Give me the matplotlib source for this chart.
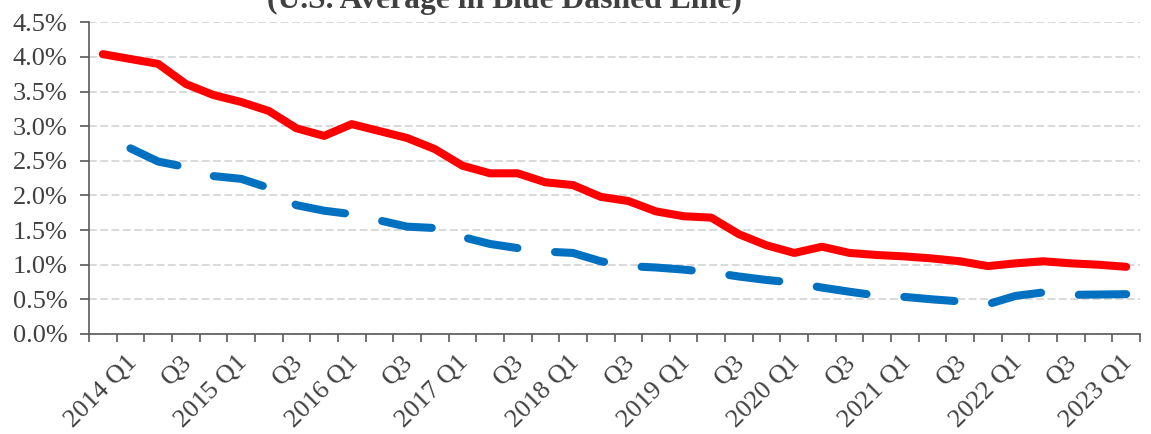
import numpy as np
import matplotlib
matplotlib.use("Agg")
import matplotlib.pyplot as plt
import matplotlib.transforms as mtransforms
from matplotlib.ticker import FuncFormatter, MultipleLocator

# quarters 2013 Q4 .. 2023 Q1
quarters = ["2013 Q4"] + [f"{y} Q{q}" for y in range(2014, 2023) for q in range(1, 5)] + ["2023 Q1"]

# state rate (red) and U.S. average (blue dashed), percent
state_rate = [4.04, 3.97, 3.90, 3.61, 3.45, 3.35, 3.22, 2.97, 2.86, 3.03,
              2.93, 2.83, 2.67, 2.43, 2.32, 2.32, 2.19, 2.15, 1.98, 1.92,
              1.77, 1.70, 1.68, 1.44, 1.28, 1.17, 1.26, 1.17, 1.14, 1.12,
              1.09, 1.05, 0.98, 1.02, 1.05, 1.02, 1.00, 0.97]
us_average = [np.nan, 2.68, 2.49, 2.41, 2.28, 2.24, 2.11, 1.86, 1.78, 1.73,
              1.64, 1.55, 1.53, 1.40, 1.30, 1.24, 1.19, 1.17, 1.05, 0.98,
              0.96, 0.93, 0.89, 0.83, 0.78, 0.74, 0.67, 0.61, 0.555, 0.535,
              0.50, 0.47, 0.43, 0.55, 0.60, 0.565, 0.57, 0.575]

title = "(U.S. Average in Blue Dashed Line)"

plt.rcParams['font.family'] = ['Liberation Serif', 'DejaVu Serif']
text_col = '#404040'
axis_col = '#595959'

fig = plt.figure(figsize=(11.51, 4.34), dpi=100)
ax = fig.add_axes([89 / 1151, 1 - 334 / 434, (1140 - 89) / 1151, (334 - 22.3) / 434])

x = np.arange(len(quarters))
ax.plot(x, state_rate, color='#FF0000', lw=5.8, solid_joinstyle='round',
        solid_capstyle='round', zorder=3)
blue, = ax.plot(x, us_average, color='#0070C0', lw=5.8, dash_capstyle='round',
                dash_joinstyle='round', zorder=3)
blue.set_dashes([6.25, 4.7])

ax.set_xlim(-0.5, len(quarters) - 0.5)
ax.set_ylim(0, 4.5)
ax.yaxis.set_major_locator(MultipleLocator(0.5))
ax.yaxis.set_major_formatter(FuncFormatter(lambda v, p: f"{v:.1f}%"))
ax.grid(axis='y', color='#D9D9D9', lw=1.4, dashes=(4, 1.8), zorder=1)
ax.set_axisbelow(True)

# category boundary ticks
ax.set_xticks(np.arange(-0.5, len(quarters), 1.0), minor=True)
lab_pos = [i for i, q in enumerate(quarters) if q.endswith("Q1") or q.endswith("Q3")]
lab_txt = [quarters[i] if quarters[i].endswith("Q1") else "Q3" for i in lab_pos]
ax.set_xticks(lab_pos)
ax.set_xticklabels(lab_txt, rotation=45, ha='right', va='center', rotation_mode='anchor')
ax.tick_params(axis='x', which='major', length=0, pad=18, labelsize=19, colors=text_col)
ax.tick_params(axis='x', which='minor', length=6, width=1.2, color=axis_col)
ax.tick_params(axis='y', length=6.5, width=1.2, color=axis_col, pad=9,
               labelsize=19, labelcolor=text_col)
offset = mtransforms.ScaledTranslation(3 / 100, 0, fig.dpi_scale_trans)
for lab in ax.get_xticklabels():
    lab.set_transform(lab.get_transform() + offset)

for s in ['top', 'right']:
    ax.spines[s].set_visible(False)
for s in ['left', 'bottom']:
    ax.spines[s].set_color(axis_col)
    ax.spines[s].set_linewidth(1.2)

fig.text(504 / 1151, 1 - 8 / 434, title, ha='center', va='baseline',
         fontsize=22.8, fontweight='bold', color=text_col)

fig.savefig("out.png", dpi=100)
